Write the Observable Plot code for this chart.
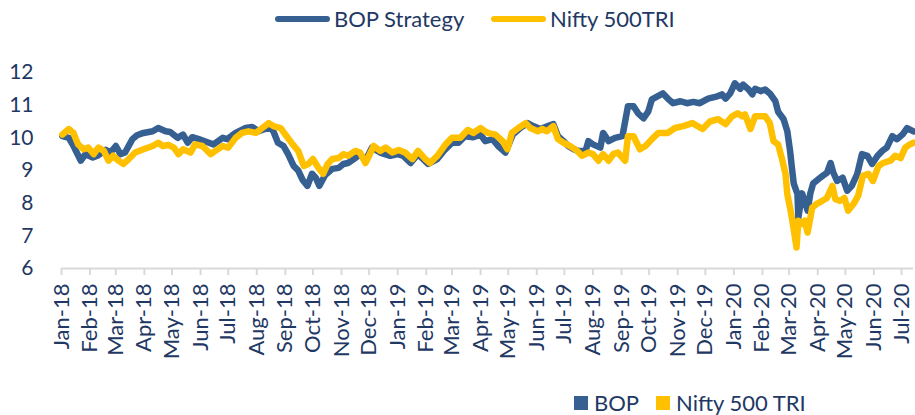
<!DOCTYPE html>
<html><head><meta charset="utf-8">
<script src="https://cdn.jsdelivr.net/npm/d3@7"></script>
<script src="https://cdn.jsdelivr.net/npm/@observablehq/plot@0.6"></script>
<style>
body{margin:0;background:#fff;font-family:Lato,sans-serif;color:#1f3864;}
#wrap{position:relative;width:915px;height:415px;overflow:hidden;background:#fff}
.item{position:absolute;display:flex;align-items:center;white-space:nowrap;font-size:22px;line-height:1}
.line{display:inline-block;width:55px;height:6px;border-radius:3px;margin-right:4px}
.sq{display:inline-block;width:14px;height:14px;margin-right:6px}
#chart{position:absolute;left:0;top:40px}
</style></head><body>
<div id="wrap"><div id="chart"></div></div>
<script>
// ---- data ----
const seriesNames = ["BOP Strategy", "Nifty 500TRI"];
const bottomNames = ["BOP", "Nifty 500 TRI"];
const seriesColors = ["#376092", "#FFC000"];
const yTicks = [6, 7, 8, 9, 10, 11, 12];
const tickDates = ["2018-01-01","2018-02-01","2018-03-01","2018-04-01","2018-05-01","2018-06-01","2018-07-01","2018-08-01","2018-09-01","2018-10-01","2018-11-01","2018-12-01",
  "2019-01-01","2019-02-01","2019-03-01","2019-04-01","2019-05-01","2019-06-01","2019-07-01","2019-08-01","2019-09-01","2019-10-01","2019-11-01","2019-12-01",
  "2020-01-01","2020-02-01","2020-03-01","2020-04-01","2020-05-01","2020-06-01","2020-07-01"];
const tickLabels = ["Jan-18","Feb-18","Mar-18","Apr-18","May-18","Jun-18","Jul-18","Aug-18","Sep-18","Oct-18","Nov-18","Dec-18",
  "Jan-19","Feb-19","Mar-19","Apr-19","May-19","Jun-19","Jul-19","Aug-19","Sep-19","Oct-19","Nov-19","Dec-19",
  "Jan-20","Feb-20","Mar-20","Apr-20","May-20","Jun-20","Jul-20"];

const bopDates = [
 "2018-01-02","2018-01-09","2018-01-14","2018-01-22","2018-01-27",
 "2018-02-04","2018-02-09","2018-02-18","2018-02-23",
 "2018-03-01","2018-03-06","2018-03-11","2018-03-19","2018-03-24","2018-03-31",
 "2018-04-10","2018-04-16","2018-04-24","2018-04-29",
 "2018-05-07","2018-05-13","2018-05-18","2018-05-23","2018-05-30",
 "2018-06-10","2018-06-15","2018-06-25","2018-06-30",
 "2018-07-09","2018-07-20","2018-07-27",
 "2018-08-03","2018-08-10","2018-08-16","2018-08-19","2018-08-24","2018-08-30",
 "2018-09-04","2018-09-10","2018-09-15","2018-09-20","2018-09-25","2018-09-30",
 "2018-10-04","2018-10-08","2018-10-14","2018-10-22","2018-10-29",
 "2018-11-03","2018-11-08","2018-11-16","2018-11-21","2018-11-27",
 "2018-12-04","2018-12-13","2018-12-24",
 "2019-01-01","2019-01-07","2019-01-15","2019-01-23",
 "2019-02-03","2019-02-13","2019-02-20",
 "2019-03-01","2019-03-08","2019-03-15","2019-03-24",
 "2019-04-01","2019-04-06","2019-04-14","2019-04-20","2019-04-28",
 "2019-05-06","2019-05-14","2019-05-22","2019-05-28",
 "2019-06-05","2019-06-13","2019-06-19","2019-06-24","2019-06-30",
 "2019-07-05","2019-07-11","2019-07-16","2019-07-24","2019-07-27",
 "2019-08-01","2019-08-09","2019-08-12","2019-08-18","2019-08-25",
 "2019-09-02","2019-09-08","2019-09-14","2019-09-19","2019-09-25","2019-09-30",
 "2019-10-04","2019-10-10","2019-10-16","2019-10-22","2019-10-27",
 "2019-11-04","2019-11-11","2019-11-18","2019-11-25",
 "2019-12-04","2019-12-14","2019-12-19","2019-12-23","2019-12-28",
 "2020-01-02","2020-01-08","2020-01-11","2020-01-17","2020-01-21","2020-01-24","2020-01-30",
 "2020-02-04","2020-02-09","2020-02-15","2020-02-18","2020-02-24","2020-02-28",
 "2020-03-02","2020-03-04","2020-03-06","2020-03-10","2020-03-11","2020-03-15","2020-03-18","2020-03-21","2020-03-24","2020-03-27",
 "2020-04-02","2020-04-07","2020-04-11","2020-04-15","2020-04-18","2020-04-22","2020-04-28",
 "2020-05-03","2020-05-08","2020-05-14","2020-05-19","2020-05-25","2020-05-30",
 "2020-06-05","2020-06-10","2020-06-15","2020-06-21","2020-06-26",
 "2020-07-02","2020-07-07","2020-07-14"];
const bopValues = [
 10.05,10.0,9.75,9.3,9.5,
 9.4,9.45,9.63,9.55,
 9.75,9.5,9.55,9.96,10.08,10.15,
 10.2,10.3,10.2,10.18,
 10.0,10.1,9.85,10.02,9.96,
 9.85,9.8,10.0,9.96,
 10.15,10.3,10.33,
 10.2,10.27,10.3,10.2,9.85,9.75,
 9.5,9.14,9.0,8.7,8.53,8.9,
 8.78,8.53,8.85,9.05,9.08,
 9.2,9.23,9.38,9.5,9.3,
 9.7,9.55,9.45,
 9.5,9.45,9.23,9.5,
 9.2,9.35,9.6,
 9.85,9.85,10.05,10.02,
 10.1,9.9,9.96,9.75,9.55,
 10.1,10.3,10.45,10.36,
 10.27,10.36,10.42,10.05,9.9,
 9.75,9.65,9.6,9.6,9.9,
 9.8,9.7,10.15,9.9,10.0,
 10.05,10.97,10.97,10.75,10.6,10.8,
 11.18,11.27,11.36,11.18,11.06,
 11.12,11.06,11.1,11.06,
 11.2,11.27,11.33,11.2,11.36,
 11.67,11.5,11.63,11.48,11.33,11.5,11.43,
 11.48,11.36,11.12,10.8,10.57,10.2,
 9.6,9.08,8.6,8.28,7.55,8.3,8.07,7.77,8.3,8.6,
 8.74,8.85,8.93,9.23,8.93,8.68,8.78,
 8.38,8.53,8.9,9.5,9.45,9.2,
 9.45,9.6,9.7,10.05,9.96,
 10.1,10.3,10.2];

const niftyDates = [
 "2018-01-02","2018-01-09","2018-01-14","2018-01-19","2018-01-25","2018-01-30",
 "2018-02-05","2018-02-10","2018-02-16","2018-02-21","2018-02-26",
 "2018-03-04","2018-03-09","2018-03-15","2018-03-22","2018-03-31",
 "2018-04-10","2018-04-16","2018-04-21","2018-04-27",
 "2018-05-03","2018-05-08","2018-05-13","2018-05-21","2018-05-26",
 "2018-06-03","2018-06-12","2018-06-17","2018-06-25",
 "2018-07-01","2018-07-09","2018-07-16","2018-07-23","2018-07-31",
 "2018-08-07","2018-08-14","2018-08-19","2018-08-27",
 "2018-09-01","2018-09-09","2018-09-15","2018-09-21","2018-09-26",
 "2018-10-01","2018-10-07","2018-10-12","2018-10-17","2018-10-22","2018-10-29",
 "2018-11-03","2018-11-08","2018-11-16","2018-11-21","2018-11-27",
 "2018-12-06","2018-12-13","2018-12-19","2018-12-26",
 "2019-01-02","2019-01-09","2019-01-17","2019-01-23","2019-01-31",
 "2019-02-05","2019-02-13","2019-02-22",
 "2019-03-01","2019-03-10","2019-03-18","2019-03-24",
 "2019-04-01","2019-04-06","2019-04-09","2019-04-17","2019-04-25","2019-04-30",
 "2019-05-05","2019-05-12","2019-05-20","2019-05-25",
 "2019-06-02","2019-06-07","2019-06-12","2019-06-19","2019-06-24","2019-06-30",
 "2019-07-07","2019-07-15","2019-07-20","2019-07-27",
 "2019-08-01","2019-08-07","2019-08-12","2019-08-18","2019-08-23","2019-08-28",
 "2019-09-05","2019-09-08","2019-09-14","2019-09-21","2019-09-27",
 "2019-10-04","2019-10-11","2019-10-21","2019-10-29",
 "2019-11-07","2019-11-17","2019-11-28",
 "2019-12-06","2019-12-15","2019-12-23","2019-12-30",
 "2020-01-05","2020-01-10","2020-01-13","2020-01-19","2020-01-24","2020-01-30",
 "2020-02-04","2020-02-09","2020-02-13","2020-02-18","2020-02-22","2020-02-26","2020-02-28",
 "2020-03-02","2020-03-05","2020-03-09","2020-03-11","2020-03-15","2020-03-18","2020-03-21","2020-03-26","2020-03-31",
 "2020-04-06","2020-04-11","2020-04-17","2020-04-20","2020-04-25","2020-04-30",
 "2020-05-04","2020-05-10","2020-05-15","2020-05-20","2020-05-26","2020-05-31",
 "2020-06-06","2020-06-11","2020-06-19","2020-06-24","2020-06-30",
 "2020-07-05","2020-07-10","2020-07-14"];
const niftyValues = [
 10.1,10.27,10.15,9.8,9.65,9.7,
 9.5,9.7,9.6,9.3,9.45,
 9.3,9.2,9.35,9.55,9.65,
 9.75,9.85,9.75,9.78,
 9.7,9.5,9.65,9.55,9.8,
 9.75,9.5,9.6,9.75,
 9.7,10.0,10.15,10.2,10.15,
 10.3,10.45,10.36,10.3,
 10.1,9.8,9.6,9.14,9.2,
 9.35,9.08,8.9,9.2,9.35,9.38,
 9.5,9.45,9.6,9.55,9.23,
 9.75,9.6,9.7,9.55,
 9.63,9.55,9.35,9.6,9.35,
 9.23,9.45,9.8,
 10.0,10.0,10.24,10.15,
 10.3,10.2,10.15,10.1,9.9,9.65,
 10.15,10.3,10.45,10.3,
 10.2,10.27,10.2,10.36,9.96,9.85,
 9.75,9.6,9.45,9.55,
 9.5,9.3,9.5,9.3,9.5,9.55,
 9.3,10.05,10.05,9.65,9.75,
 9.96,10.15,10.15,10.3,
 10.36,10.45,10.27,
 10.5,10.57,10.42,10.66,
 10.75,10.66,10.72,10.27,10.66,10.66,
 10.66,10.45,9.9,9.8,9.38,8.9,8.28,
 7.86,7.37,6.64,7.46,7.37,7.46,7.1,7.86,7.98,
 8.07,8.16,8.53,8.13,8.07,8.16,
 7.77,7.98,8.23,8.84,8.9,8.68,
 9.14,9.23,9.3,9.45,9.38,
 9.7,9.8,9.85];

// ---- build ----
const parse = d3.utcParse("%Y-%m-%d");
const bop = bopDates.map((d, i) => ({date: parse(d), value: bopValues[i]}));
const nifty = niftyDates.map((d, i) => ({date: parse(d), value: niftyValues[i]}));
const ticks = tickDates.map(parse);

const text = "#1f3864";
const chart = Plot.plot({
  width: 915,
  height: 345,
  marginLeft: 61,
  marginRight: 2,
  marginTop: 32,
  marginBottom: 117,
  style: {fontFamily: "Lato, sans-serif", color: text, background: "white", overflow: "visible"},
  x: {type: "utc", domain: [parse("2018-01-01"), parse("2020-07-14")], label: null},
  y: {domain: [6, 12], label: null},
  marks: [
    Plot.ruleY([6], {stroke: "#d9d9d9", strokeWidth: 2, x1: parse("2018-01-01"), x2: parse("2020-07-14")}),
    Plot.axisX({ticks: ticks, tickFormat: (d, i) => tickLabels[i], tickRotate: -90, tickSize: 7,
      tickPadding: 8, stroke: "#d9d9d9", strokeWidth: 2, fill: text, fontSize: 22, label: null}),
    Plot.axisY({ticks: yTicks, tickFormat: d3.format("d"), tickSize: 0, tickPadding: 28, fontSize: 21, fill: text, label: null}),
    Plot.line(bop, {x: "date", y: "value", stroke: seriesColors[0], strokeWidth: 6.5, strokeLinejoin: "round", strokeLinecap: "round"}),
    Plot.line(nifty, {x: "date", y: "value", stroke: seriesColors[1], strokeWidth: 6.5, strokeLinejoin: "round", strokeLinecap: "round"})
  ]
});
document.getElementById("chart").appendChild(chart);

// ---- legends ----
const wrap = document.getElementById("wrap");
const topLeft = [275, 491];
const bottomLeft = [574, 656];
seriesNames.forEach((name, i) => {
  const it = document.createElement("div");
  it.className = "item";
  it.style.left = topLeft[i] + "px";
  it.style.top = "8px";
  it.style.height = "22px";
  it.innerHTML = `<span class="line" style="background:${seriesColors[i]}"></span><span>${name}</span>`;
  wrap.appendChild(it);
});
bottomNames.forEach((name, i) => {
  const it = document.createElement("div");
  it.className = "item";
  it.style.left = bottomLeft[i] + "px";
  it.style.top = "392px";
  it.style.height = "22px";
  it.innerHTML = `<span class="sq" style="background:${seriesColors[i]}"></span><span>${name}</span>`;
  wrap.appendChild(it);
});
</script>
</body></html>
